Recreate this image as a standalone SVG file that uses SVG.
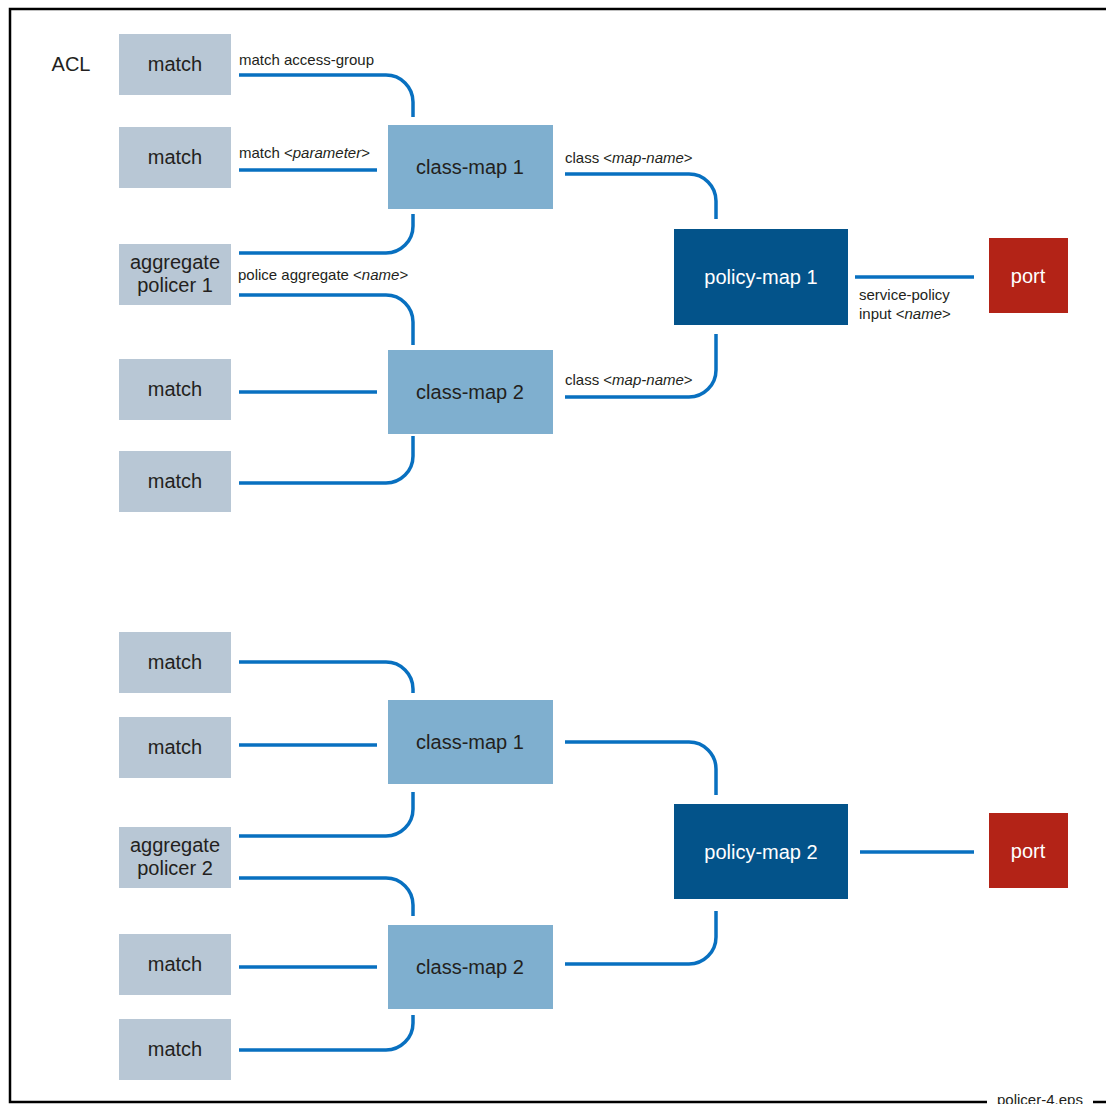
<svg xmlns="http://www.w3.org/2000/svg" width="1106" height="1104" viewBox="0 0 1106 1104">
<style>
.frame{fill:none;stroke:#000;stroke-width:2.5}
.m{fill:#b8c7d5}
.c{fill:#7fafcf}
.p{fill:#03538a}
.r{fill:#b32317}
.t{font-family:"Liberation Sans",Arial,sans-serif;font-size:20px;fill:#231f20;text-anchor:middle}
.w{fill:#fff}
.s{font-family:"Liberation Sans",Arial,sans-serif;font-size:15px;fill:#231f20}
.con path{fill:none;stroke:#0870c0;stroke-width:3.5}
</style>
<rect width="1106" height="1104" fill="#fff"/>
<g id="frame">
<path class="frame" d="M1106,9 H10 V1102 H987 M1093,1102 H1106"/>
<text class="s" x="997" y="1105" font-size="13">policer-4.eps</text>
</g>
<text class="t" x="71" y="71">ACL</text>

<g class="con" id="connectors">
<path d="M239,75 H386 A27,27 0 0 1 413,102 V117"/>
<path d="M239,170 H377"/>
<path d="M413,214 V226 A27,27 0 0 1 386,253 H239"/>
<path d="M239,295 H386 A27,27 0 0 1 413,322 V345"/>
<path d="M239,392 H377"/>
<path d="M239,483 H386 A27,27 0 0 0 413,456 V436"/>
<path d="M565,174 H689 A27,27 0 0 1 716,201 V219"/>
<path d="M716,334 V370 A27,27 0 0 1 689,397 H565"/>
<path d="M855,277 H974"/>

<path d="M239,662 H386 A27,27 0 0 1 413,689 V693"/>
<path d="M239,745 H377"/>
<path d="M413,792 V809 A27,27 0 0 1 386,836 H239"/>
<path d="M239,878 H386 A27,27 0 0 1 413,905 V916"/>
<path d="M239,967 H377"/>
<path d="M239,1050 H386 A27,27 0 0 0 413,1023 V1015"/>
<path d="M565,742 H689 A27,27 0 0 1 716,769 V795"/>
<path d="M716,911 V937 A27,27 0 0 1 689,964 H565"/>
<path d="M860,852 H974"/>
</g>

<g id="labels">
<text class="s" x="239" y="65">match access-group</text>
<text class="s" x="239" y="158">match &lt;<tspan font-style="italic">parameter</tspan>&gt;</text>
<text class="s" x="238" y="280">police aggregate &lt;<tspan font-style="italic">name</tspan>&gt;</text>
<text class="s" x="565" y="163">class &lt;<tspan font-style="italic">map-name</tspan>&gt;</text>
<text class="s" x="565" y="385">class &lt;<tspan font-style="italic">map-name</tspan>&gt;</text>
<text class="s" x="859" y="300">service-policy</text>
<text class="s" x="859" y="319">input &lt;<tspan font-style="italic">name</tspan>&gt;</text>
</g>

<g id="match1a"><rect class="m" x="119" y="34" width="112" height="61"/><text class="t" x="175" y="71">match</text></g>
<g id="match1b"><rect class="m" x="119" y="127" width="112" height="61"/><text class="t" x="175" y="164">match</text></g>
<g id="agg1"><rect class="m" x="119" y="244" width="112" height="61"/><text class="t" x="175" y="269">aggregate</text><text class="t" x="175" y="292">policer 1</text></g>
<g id="match1c"><rect class="m" x="119" y="359" width="112" height="61"/><text class="t" x="175" y="396">match</text></g>
<g id="match1d"><rect class="m" x="119" y="451" width="112" height="61"/><text class="t" x="175" y="488">match</text></g>
<g id="classmap1a"><rect class="c" x="388" y="125" width="165" height="84"/><text class="t" x="470" y="174">class-map 1</text></g>
<g id="classmap2a"><rect class="c" x="388" y="350" width="165" height="84"/><text class="t" x="470" y="399">class-map 2</text></g>
<g id="policymap1"><rect class="p" x="674" y="229" width="174" height="96"/><text class="t w" x="761" y="284">policy-map 1</text></g>
<g id="port1"><rect class="r" x="989" y="238" width="79" height="75"/><text class="t w" x="1028" y="283">port</text></g>

<g id="match2a"><rect class="m" x="119" y="632" width="112" height="61"/><text class="t" x="175" y="669">match</text></g>
<g id="match2b"><rect class="m" x="119" y="717" width="112" height="61"/><text class="t" x="175" y="754">match</text></g>
<g id="agg2"><rect class="m" x="119" y="827" width="112" height="61"/><text class="t" x="175" y="852">aggregate</text><text class="t" x="175" y="875">policer 2</text></g>
<g id="match2c"><rect class="m" x="119" y="934" width="112" height="61"/><text class="t" x="175" y="971">match</text></g>
<g id="match2d"><rect class="m" x="119" y="1019" width="112" height="61"/><text class="t" x="175" y="1056">match</text></g>
<g id="classmap1b"><rect class="c" x="388" y="700" width="165" height="84"/><text class="t" x="470" y="749">class-map 1</text></g>
<g id="classmap2b"><rect class="c" x="388" y="925" width="165" height="84"/><text class="t" x="470" y="974">class-map 2</text></g>
<g id="policymap2"><rect class="p" x="674" y="804" width="174" height="95"/><text class="t w" x="761" y="859">policy-map 2</text></g>
<g id="port2"><rect class="r" x="989" y="813" width="79" height="75"/><text class="t w" x="1028" y="858">port</text></g>
</svg>
